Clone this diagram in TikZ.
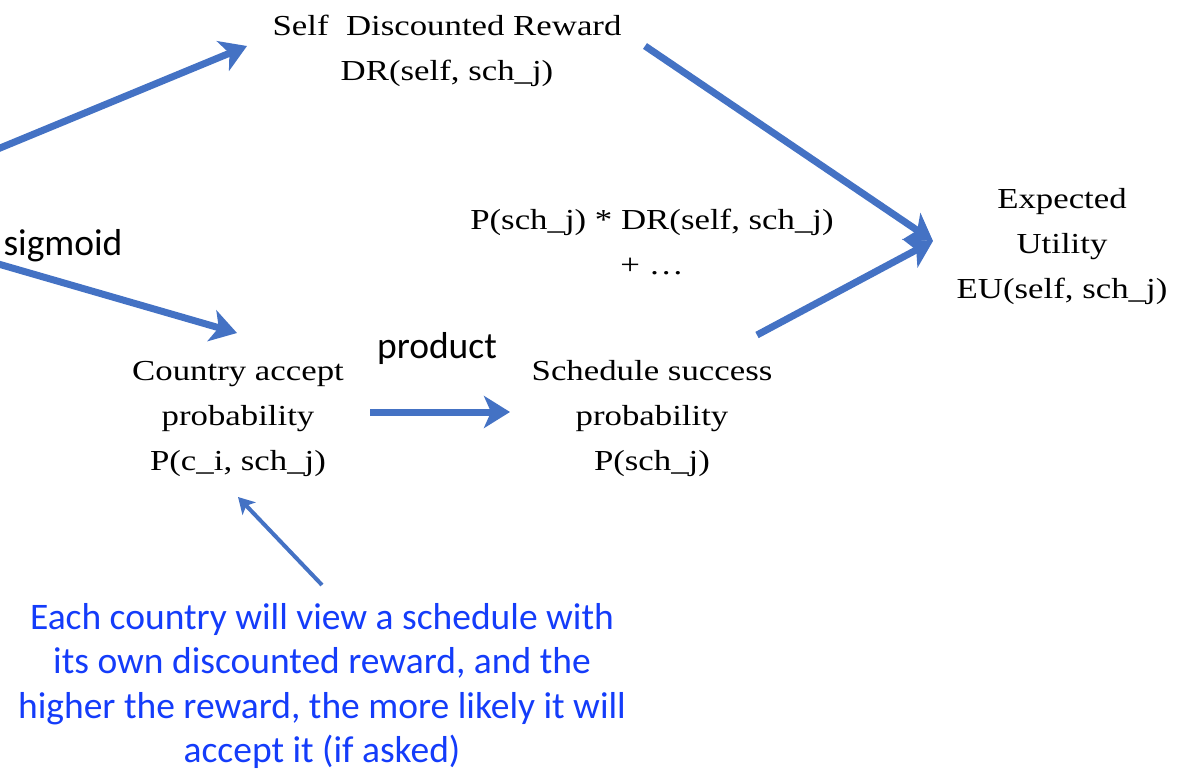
\documentclass[tikz,border=0pt]{standalone}
\usepackage{fontspec}
\setmainfont{Liberation Serif}[FakeStretch=1.2]
\newfontfamily\calib{Carlito}
\usetikzlibrary{arrows.meta}
\definecolor{arrowblue}{RGB}{68,114,196}
\definecolor{noteblue}{RGB}{20,60,250}
\tikzset{
  lbl/.style={align=center, inner sep=0pt, font=\fontsize{29}{45}\selectfont},
  sanslbl/.style={inner sep=0pt, font=\calib\fontsize{37.5}{45}\selectfont},
  note/.style={align=center, inner sep=0pt, text=noteblue, font=\calib\fontsize{37.5}{44.5}\selectfont},
  bigarrow/.style={draw=arrowblue, line width=7pt, -{Stealth[length=26pt,width=32pt,inset=7pt]}},
  smallarrow/.style={draw=arrowblue, line width=4pt, -{Stealth[length=16pt,width=18pt,inset=4pt]}}
}
\begin{document}
\begin{tikzpicture}[x=1pt,y=-1pt]
\useasboundingbox (0,0) rectangle (1191,770);
\node[lbl] (self) at (447,51) {Self \ Discounted Reward\\DR(self, sch\_j)};
\node[lbl] (sum) at (652,242) {P(sch\_j) * DR(self, sch\_j)\\+ \dots};
\node[lbl] (eu) at (1062,247) {Expected\\Utility\\EU(self, sch\_j)};
\node[lbl] (country) at (238,419) {Country accept\\probability\\P(c\_i, sch\_j)};
\node[lbl] (sched) at (652,419) {Schedule success\\probability\\P(sch\_j)};
\node[sanslbl] (sigmoid) at (63,246) {sigmoid};
\node[sanslbl] (product) at (437,349) {product};
\node[note] (note) at (322,686) {Each country will view a schedule with\\its own discounted reward, and the\\higher the reward, the more likely it will\\accept it (if asked)};
% ports
\coordinate (inA) at (-12,153);
\coordinate (inB) at (-12,261);
\coordinate (selfIn) at (247,46);
\coordinate (selfOut) at (645,46);
\coordinate (countryIn) at (237,333);
\coordinate (countryOut) at (370,412);
\coordinate (schedIn) at (510,412);
\coordinate (schedOut) at (757,335);
\coordinate (euIn) at (933,241);
\coordinate (noteOut) at (322,585);
\coordinate (countryBot) at (238,497);
\draw[bigarrow] (inA) -- (selfIn);
\draw[bigarrow] (inB) -- (countryIn);
\draw[bigarrow] (selfOut) -- (euIn);
\draw[bigarrow] (schedOut) -- (euIn);
\draw[bigarrow] (countryOut) -- (schedIn);
\draw[smallarrow] (noteOut) -- (countryBot);
\end{tikzpicture}
\end{document}
